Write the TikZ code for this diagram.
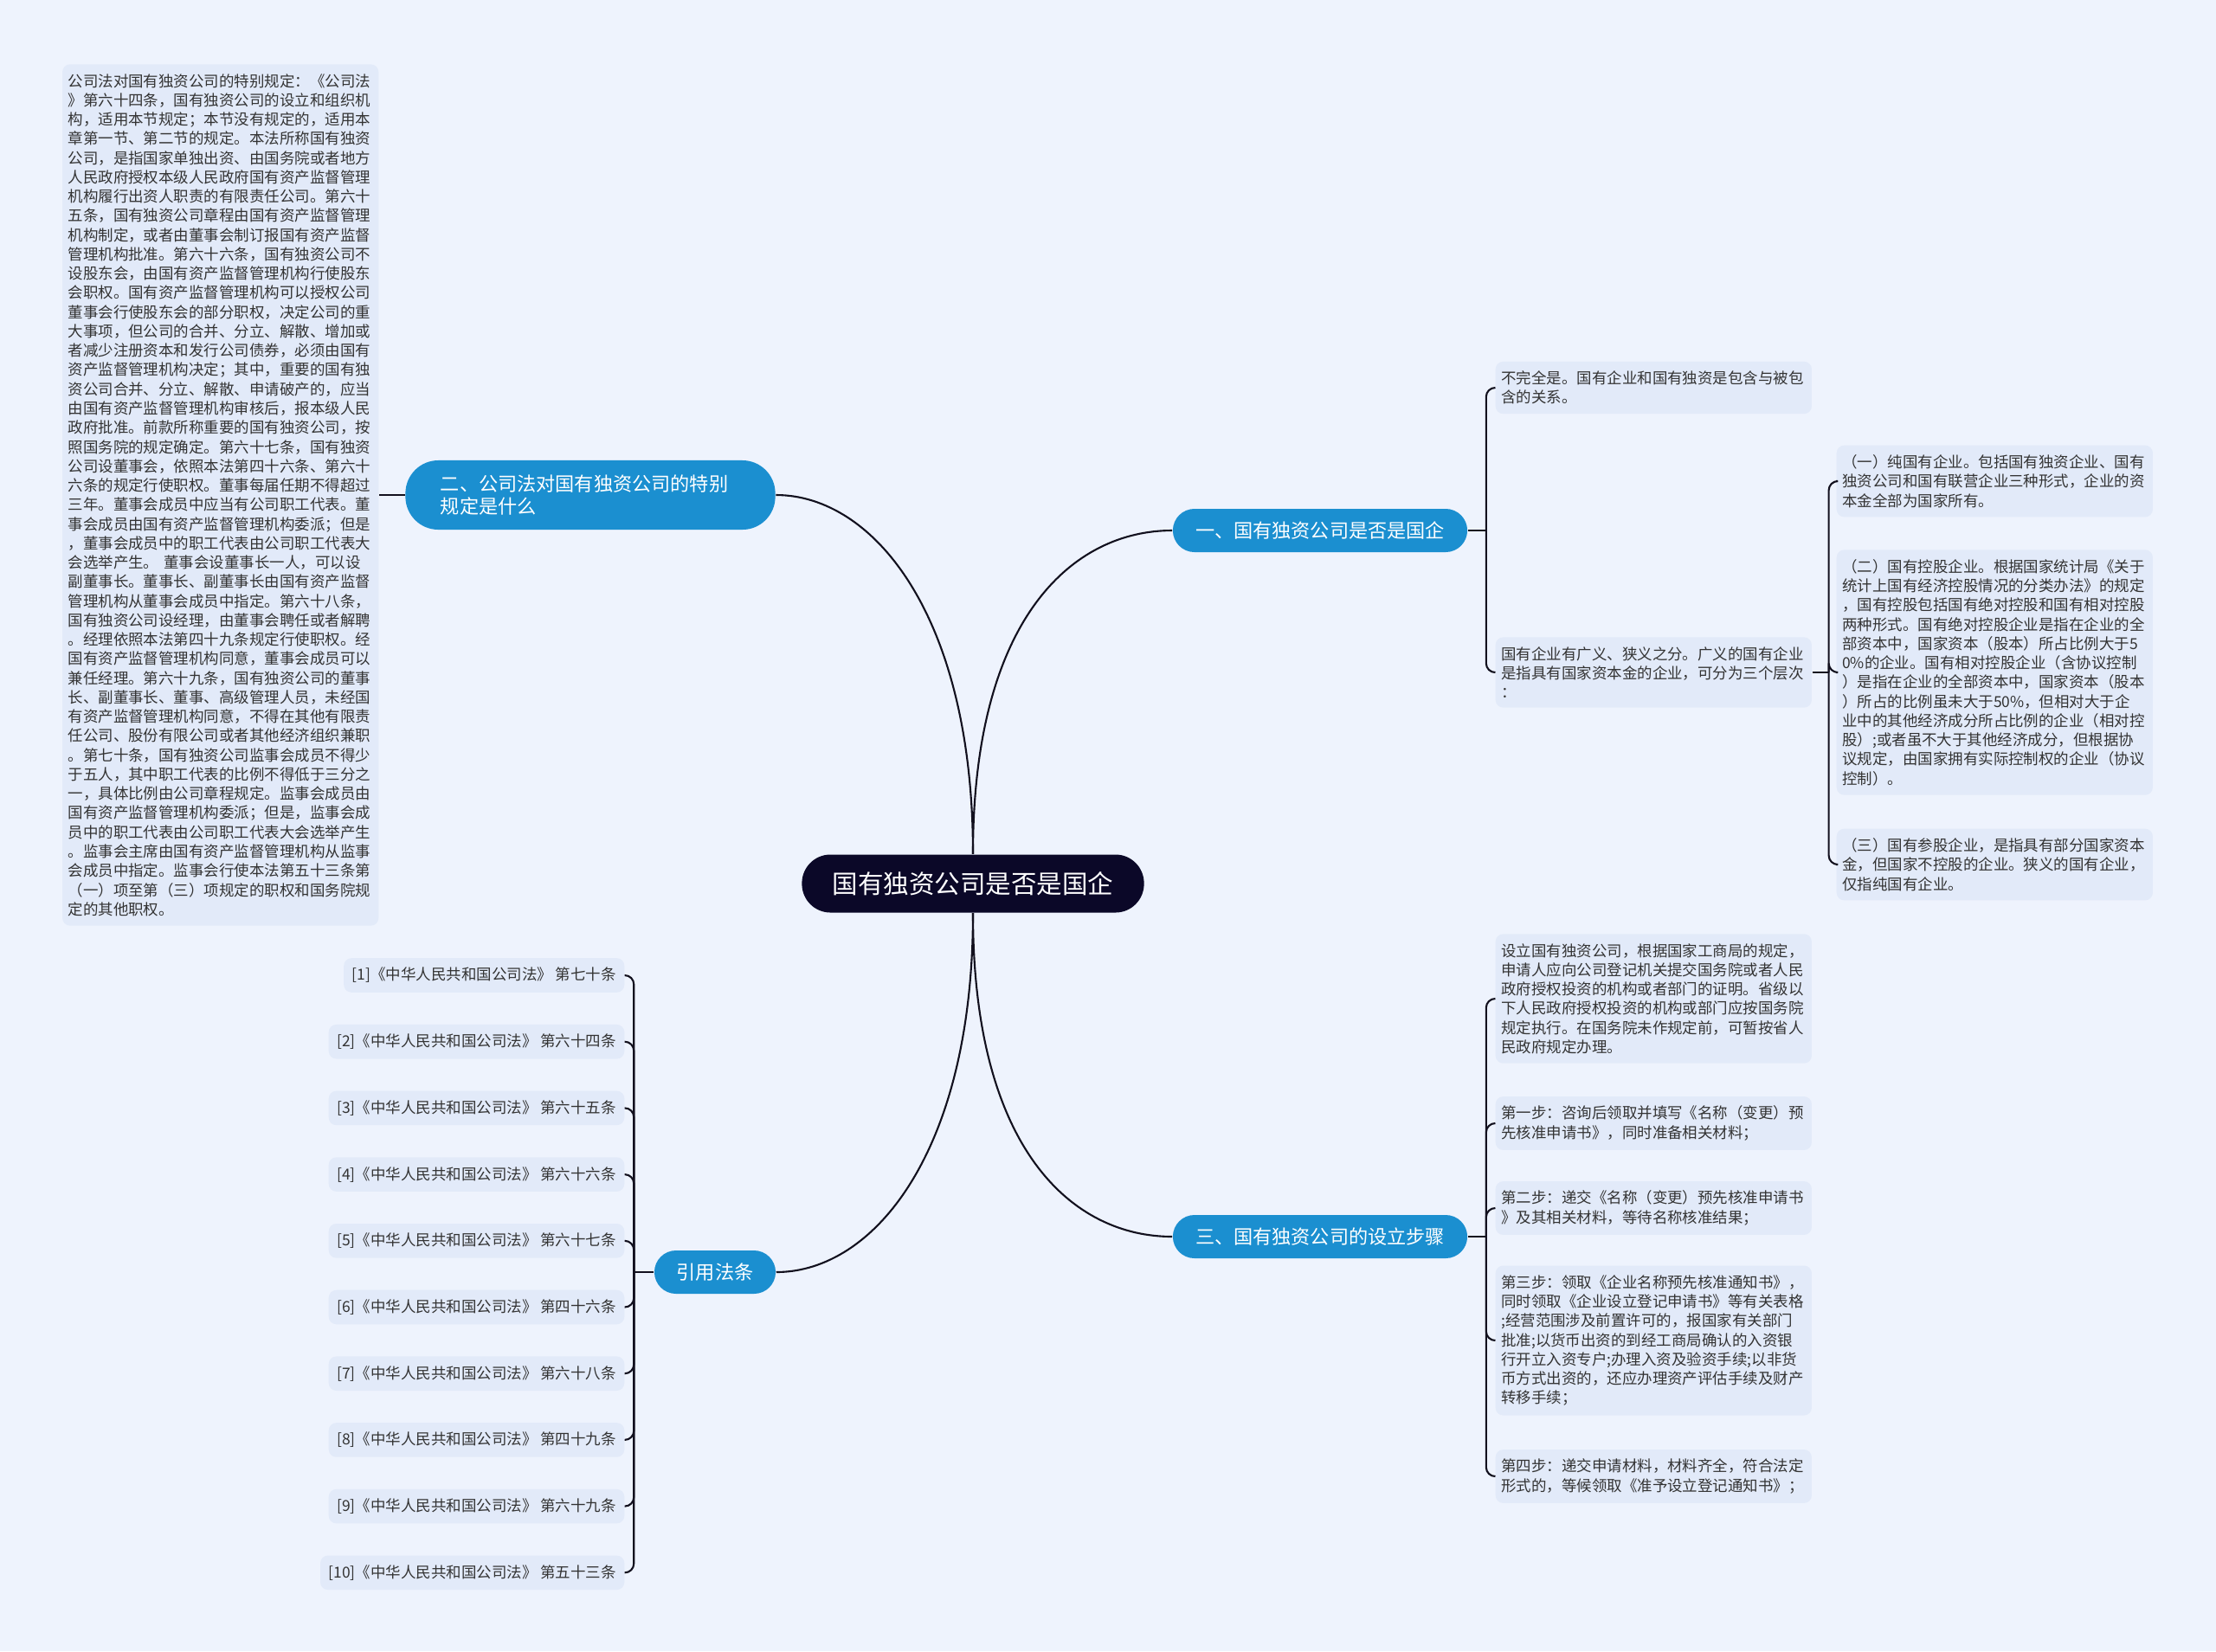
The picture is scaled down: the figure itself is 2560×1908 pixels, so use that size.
\documentclass[tikz,border=0pt]{standalone}
\usepackage{fontspec}
\setmainfont{Noto Sans CJK SC}
\definecolor{bgcol}{HTML}{EEF3FD}
\definecolor{leafcol}{HTML}{E2EAF9}
\definecolor{secblue}{HTML}{1B8FD0}
\definecolor{rootcol}{HTML}{0B0828}
\definecolor{txtcol}{HTML}{333333}
\definecolor{linecol}{HTML}{12101E}

\begin{document}
\begin{tikzpicture}[x=0.01cm, y=-0.01cm,
  link/.style={draw=linecol, line width=0.6pt},
  bracket/.style={link, rounded corners=3pt},
  root/.style={fill=rootcol, text=white, rounded corners=0.33cm, minimum width=3.95cm,
    minimum height=0.67cm, font=\fontsize{8.4pt}{10pt}\selectfont},
  sec/.style={fill=secblue, text=white, rounded corners=0.25cm, minimum width=3.4cm,
    minimum height=0.5cm, font=\fontsize{6.3pt}{7.6pt}\selectfont},
  leaf/.style={fill=leafcol, text=txtcol, rounded corners=2.5pt, text width=3.52cm,
    inner xsep=0.065cm, inner ysep=3.1pt, align=left, font=\fontsize{4.97pt}{6.33pt}\selectfont},
  cite/.style={fill=leafcol, text=txtcol, rounded corners=2.5pt, inner xsep=0.095cm,
    inner ysep=3.1pt, anchor=east, font=\fontsize{4.97pt}{6.33pt}\selectfont}]
  \fill[bgcol] (0,0) rectangle (2560,1908);
  \useasboundingbox (0,0) rectangle (2560,1908);

  \node[root] (root) at (1124,1021) {国有独资公司是否是国企};
  \node[sec] (sec1) at (1525,613) {一、国有独资公司是否是国企};
  \node[sec, minimum width=4.27cm, minimum height=0.8cm, rounded corners=0.38cm,
    text width=3.46cm, inner xsep=0.405cm, align=left] (sec2) at (682,572)
    {二、公司法对国有独资公司的特别\\规定是什么};
  \node[sec] (sec3) at (1525,1429) {三、国有独资公司的设立步骤};
  \node[sec, minimum width=1.4cm] (cite) at (826,1470) {引用法条};

  \draw[link] (root.north) .. controls (1124,713) and (1010,572) .. (sec2.east);
  \draw[link] (root.north) .. controls (1124,713) and (1240,613) .. (sec1.west);
  \draw[link] (root.south) .. controls (1124,1330) and (1010,1470) .. (cite.east);
  \draw[link] (root.south) .. controls (1124,1330) and (1240,1429) .. (sec3.west);

  \node[leaf, anchor=east] (s2a) at (438,572) {公司法对国有独资公司的特别规定：《公司法\\》第六十四条，国有独资公司的设立和组织机\\构，适用本节规定；本节没有规定的，适用本\\章第一节、第二节的规定。本法所称国有独资\\公司，是指国家单独出资、由国务院或者地方\\人民政府授权本级人民政府国有资产监督管理\\机构履行出资人职责的有限责任公司。第六十\\五条，国有独资公司章程由国有资产监督管理\\机构制定，或者由董事会制订报国有资产监督\\管理机构批准。第六十六条，国有独资公司不\\设股东会，由国有资产监督管理机构行使股东\\会职权。国有资产监督管理机构可以授权公司\\董事会行使股东会的部分职权，决定公司的重\\大事项，但公司的合并、分立、解散、增加或\\者减少注册资本和发行公司债券，必须由国有\\资产监督管理机构决定；其中，重要的国有独\\资公司合并、分立、解散、申请破产的，应当\\由国有资产监督管理机构审核后，报本级人民\\政府批准。前款所称重要的国有独资公司，按\\照国务院的规定确定。第六十七条，国有独资\\公司设董事会，依照本法第四十六条、第六十\\六条的规定行使职权。董事每届任期不得超过\\三年。董事会成员中应当有公司职工代表。董\\事会成员由国有资产监督管理机构委派；但是\\，董事会成员中的职工代表由公司职工代表大\\会选举产生。 董事会设董事长一人，可以设\\副董事长。董事长、副董事长由国有资产监督\\管理机构从董事会成员中指定。第六十八条，\\国有独资公司设经理，由董事会聘任或者解聘\\。经理依照本法第四十九条规定行使职权。经\\国有资产监督管理机构同意，董事会成员可以\\兼任经理。第六十九条，国有独资公司的董事\\长、副董事长、董事、高级管理人员，未经国\\有资产监督管理机构同意，不得在其他有限责\\任公司、股份有限公司或者其他经济组织兼职\\。第七十条，国有独资公司监事会成员不得少\\于五人，其中职工代表的比例不得低于三分之\\一，具体比例由公司章程规定。监事会成员由\\国有资产监督管理机构委派；但是，监事会成\\员中的职工代表由公司职工代表大会选举产生\\。监事会主席由国有资产监督管理机构从监事\\会成员中指定。监事会行使本法第五十三条第\\（一）项至第（三）项规定的职权和国务院规\\定的其他职权。};
  \draw[link] (sec2.west) -- (s2a.east);

  \node[leaf, anchor=west] (s1a) at (1727,448) {不完全是。国有企业和国有独资是包含与被包\\含的关系。};
  \node[leaf, anchor=west] (s1b) at (1727,777) {国有企业有广义、狭义之分。广义的国有企业\\是指具有国家资本金的企业，可分为三个层次\\：};
  \draw[link] (sec1.east) -- ++(21,0) coordinate (hub1);
  \foreach \n in {s1a, s1b} \draw[bracket] (hub1) |- (\n.west);

  \node[leaf, anchor=west] (s1b1) at (2121,556) {（一）纯国有企业。包括国有独资企业、国有\\独资公司和国有联营企业三种形式，企业的资\\本金全部为国家所有。};
  \node[leaf, anchor=west] (s1b2) at (2121,777) {（二）国有控股企业。根据国家统计局《关于\\统计上国有经济控股情况的分类办法》的规定\\，国有控股包括国有绝对控股和国有相对控股\\两种形式。国有绝对控股企业是指在企业的全\\部资本中，国家资本（股本）所占比例大于5\\0\%的企业。国有相对控股企业（含协议控制\\）是指在企业的全部资本中，国家资本（股本\\）所占的比例虽未大于50\%，但相对大于企\\业中的其他经济成分所占比例的企业（相对控\\股）;或者虽不大于其他经济成分，但根据协\\议规定，由国家拥有实际控制权的企业（协议\\控制）。};
  \node[leaf, anchor=west] (s1b3) at (2121,999) {（三）国有参股企业，是指具有部分国家资本\\金，但国家不控股的企业。狭义的国有企业，\\仅指纯国有企业。};
  \draw[link] (s1b.east) -- ++(19,0) coordinate (hub1b);
  \foreach \n in {s1b1, s1b2, s1b3} \draw[bracket] (hub1b) |- (\n.west);

  \node[leaf, anchor=west] (s3a) at (1727,1154) {设立国有独资公司，根据国家工商局的规定，\\申请人应向公司登记机关提交国务院或者人民\\政府授权投资的机构或者部门的证明。省级以\\下人民政府授权投资的机构或部门应按国务院\\规定执行。在国务院未作规定前，可暂按省人\\民政府规定办理。};
  \node[leaf, anchor=west] (s3b) at (1727,1298) {第一步：咨询后领取并填写《名称（变更）预\\先核准申请书》，同时准备相关材料；};
  \node[leaf, anchor=west] (s3c) at (1727,1396) {第二步：递交《名称（变更）预先核准申请书\\》及其相关材料，等待名称核准结果；};
  \node[leaf, anchor=west] (s3d) at (1727,1549) {第三步：领取《企业名称预先核准通知书》，\\同时领取《企业设立登记申请书》等有关表格\\;经营范围涉及前置许可的，报国家有关部门\\批准;以货币出资的到经工商局确认的入资银\\行开立入资专户;办理入资及验资手续;以非货\\币方式出资的，还应办理资产评估手续及财产\\转移手续；};
  \node[leaf, anchor=west] (s3e) at (1727,1706) {第四步：递交申请材料，材料齐全，符合法定\\形式的，等候领取《准予设立登记通知书》；};
  \draw[link] (sec3.east) -- ++(21,0) coordinate (hub3);
  \foreach \n in {s3a, s3b, s3c, s3d, s3e} \draw[bracket] (hub3) |- (\n.west);

  \foreach \i/\art in {1/第七十条, 2/第六十四条, 3/第六十五条, 4/第六十六条, 5/第六十七条,
      6/第四十六条, 7/第六十八条, 8/第四十九条, 9/第六十九条, 10/第五十三条}
    \node[cite] (c\i) at (722,{1127+(\i-1)*76.7}) {[\i]《中华人民共和国公司法》 \art};
  \draw[link] (cite.west) -- ++(-23,0) coordinate (hubc);
  \foreach \i in {1,...,10} \draw[bracket] (hubc) |- (c\i.east);
\end{tikzpicture}
\end{document}
